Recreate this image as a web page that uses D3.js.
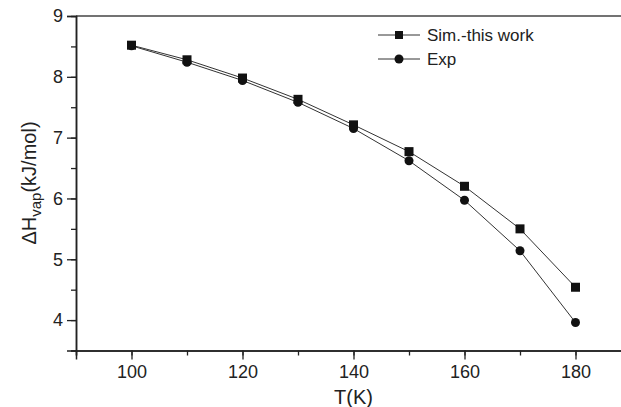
<!DOCTYPE html>
<html>
<head>
<meta charset="utf-8">
<script src="https://cdn.jsdelivr.net/npm/d3@7"></script>
<style>
  body { margin: 0; background: #fff; }
  svg text { font-family: "Liberation Sans", Arial, sans-serif; }
</style>
</head>
<body>
<svg id="chart" width="621" height="407"></svg>
<script>
// data
const temps = [100, 110, 120, 130, 140, 150, 160, 170, 180];
const simValues = [8.52, 8.28, 7.98, 7.63, 7.21, 6.77, 6.20, 5.50, 4.54];
const expValues = [8.51, 8.24, 7.94, 7.58, 7.15, 6.62, 5.97, 5.14, 3.96];
const xTicks = [100, 120, 140, 160, 180];
const yTicks = [4, 5, 6, 7, 8, 9];
const seriesNames = ['Sim.-this work', 'Exp'];

const svg = d3.select('#chart');
const ink = '#222';

const x = d3.scaleLinear().domain([90, 190]).range([76, 631]);
const y = d3.scaleLinear().domain([3.5, 9]).range([350.5, 16]);

// frame line on top
svg.append('line')
    .attr('x1', 76).attr('x2', 621)
    .attr('y1', y(9)).attr('y2', y(9))
    .attr('stroke', '#444').attr('stroke-width', 1.5);

// minor ticks
const xAxisMinor = d3.axisBottom(x).tickValues(d3.range(90, 190, 10)).tickSize(5).tickFormat('');
const yAxisMinor = d3.axisLeft(y).tickValues(d3.range(3.5, 9, 0.5)).tickSize(5).tickFormat('');
svg.append('g').attr('transform', 'translate(0,' + y(3.5) + ')').call(xAxisMinor);
svg.append('g').attr('transform', 'translate(' + x(90) + ',0)').call(yAxisMinor);

const xAxis = d3.axisBottom(x).tickValues(xTicks).tickSize(9).tickPadding(6).tickFormat(d3.format('d'));
const yAxis = d3.axisLeft(y).tickValues(yTicks).tickSize(9).tickPadding(4).tickFormat(d3.format('d'));

svg.append('g')
    .attr('transform', 'translate(0,' + y(3.5) + ')')
    .call(xAxis);
svg.append('g')
    .attr('transform', 'translate(' + x(90) + ',0)')
    .call(yAxis);

svg.selectAll('.domain').attr('stroke', ink).attr('stroke-width', 1.5);
svg.selectAll('.tick line').attr('stroke', ink).attr('stroke-width', 1.3);
svg.selectAll('.tick text').attr('fill', ink).style('font-size', '18px');

// axis titles
svg.append('text')
    .attr('x', x(140)).attr('y', 404)
    .attr('text-anchor', 'middle')
    .attr('fill', ink)
    .style('font-size', '20px')
    .text('T(K)');

const yl = svg.append('text')
    .attr('transform', 'translate(36,' + 183 + ') rotate(-90)')
    .attr('text-anchor', 'middle')
    .attr('fill', ink)
    .style('font-size', '20px');
yl.append('tspan').text('ΔH');
yl.append('tspan').attr('dy', 5).style('font-size', '15px').text('vap');
yl.append('tspan').attr('dy', -5).text('(kJ/mol)');

// lines
const line = d3.line()
    .x((d, i) => x(temps[i]))
    .y(d => y(d));

[simValues, expValues].forEach(vals => {
  svg.append('path')
      .datum(vals)
      .attr('fill', 'none')
      .attr('stroke', '#333')
      .attr('stroke-width', 1)
      .attr('d', line);
});

// markers
svg.append('g').selectAll('circle')
    .data(expValues)
    .enter().append('circle')
    .attr('cx', (d, i) => x(temps[i]))
    .attr('cy', d => y(d))
    .attr('r', 4.5)
    .attr('fill', '#111');

svg.append('g').selectAll('rect')
    .data(simValues)
    .enter().append('rect')
    .attr('x', (d, i) => x(temps[i]) - 4.5)
    .attr('y', d => y(d) - 4.5)
    .attr('width', 9).attr('height', 9)
    .attr('fill', '#111');

// legend
const legend = svg.append('g');
seriesNames.forEach((name, k) => {
  const ly = 35 + k * 24;
  legend.append('line')
      .attr('x1', 378).attr('x2', 420)
      .attr('y1', ly).attr('y2', ly)
      .attr('stroke', '#333').attr('stroke-width', 1);
  if (k === 0) {
    legend.append('rect')
        .attr('x', 395).attr('y', ly - 4)
        .attr('width', 8).attr('height', 8)
        .attr('fill', '#111');
  } else {
    legend.append('circle')
        .attr('cx', 399).attr('cy', ly).attr('r', 4.5)
        .attr('fill', '#111');
  }
  legend.append('text')
      .attr('x', 427).attr('y', ly + 6)
      .attr('fill', ink)
      .style('font-size', '17px')
      .text(name);
});
</script>
</body>
</html>
